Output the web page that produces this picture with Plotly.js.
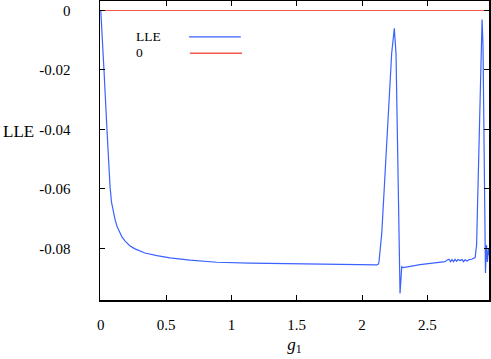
<!DOCTYPE html>
<html>
<head>
<meta charset="utf-8">
<script src="https://cdn.plot.ly/plotly-3.0.1.min.js"></script>
<style>
  body { margin: 0; background: #fff; }
  #graph { width: 491px; height: 359px; }
</style>
</head>
<body>
<div id="graph"></div>
<script>
// g1 values and largest Lyapunov exponent
var g1 = [0, 0.0054, 0.0115, 0.0245, 0.0475, 0.055, 0.0704, 0.082, 0.097, 0.109,
    0.124, 0.147, 0.162, 0.185, 0.224, 0.262, 0.300, 0.338, 0.430, 0.530,
    0.683, 0.887, 1.142, 1.395, 1.755, 2.113, 2.125,
    2.130, 2.151, 2.189, 2.227, 2.247, 2.260, 2.273, 2.286, 2.291, 2.304,
    2.316, 2.444, 2.597, 2.636, 2.649, 2.666, 2.678, 2.689, 2.701, 2.712,
    2.724, 2.735, 2.751, 2.766, 2.777, 2.789, 2.804, 2.820, 2.840, 2.853,
    2.866, 2.877, 2.888, 2.904, 2.914, 2.919, 2.926, 2.934, 2.941, 2.945,
    2.953, 2.960, 2.968, 2.974];
var lle = [0, -0.0039, -0.0077, -0.0200, -0.0402, -0.0470, -0.0590, -0.0645, -0.0680, -0.0703,
    -0.0726, -0.0750, -0.0762, -0.0775, -0.0792, -0.0802, -0.0810, -0.0816, -0.0825, -0.0832,
    -0.0840, -0.0847, -0.0850, -0.0852, -0.0854, -0.0856, -0.0853,
    -0.0845, -0.0750, -0.0425, -0.0144, -0.0060, -0.0144, -0.0480, -0.0817, -0.0952, -0.0862,
    -0.0865, -0.0855, -0.0847, -0.0845, -0.0840, -0.0837, -0.0845, -0.0838, -0.0845, -0.0837,
    -0.0844, -0.0838, -0.0841, -0.0838, -0.0845, -0.0839, -0.0843, -0.0838, -0.0837, -0.0834,
    -0.0831, -0.0789, -0.0570, -0.0268, -0.0082, -0.0030, -0.0116, -0.0436, -0.0772, -0.0883,
    -0.0789, -0.0846, -0.0799, -0.0823];
var zeroX = [-0.006, 2.972];
var zeroY = [0, 0];
var xTicks = [0, 0.5, 1, 1.5, 2, 2.5];
var xTickText = ['0', '0.5', '1', '1.5', '2', '2.5'];
var yTicks = [0, -0.02, -0.04, -0.06, -0.08];
var yTickText = ['0', '-0.02', '-0.04', '-0.06', '-0.08'];

var blue = '#3a62ff';
var red = '#f2584c';
var serif = 'Liberation Serif';

var lleTrace = {
    x: g1,
    y: lle,
    type: 'scatter',
    mode: 'lines',
    name: 'LLE',
    line: { color: blue, width: 1.2 }
};
var zeroTrace = {
    x: zeroX,
    y: zeroY,
    type: 'scatter',
    mode: 'lines',
    name: '0',
    line: { color: red, width: 1.2 }
};

var axisCommon = {
    showline: true,
    linecolor: '#000',
    linewidth: 1.5,
    mirror: 'ticks',
    ticks: 'inside',
    ticklen: 5,
    tickwidth: 1,
    tickcolor: '#000',
    showgrid: false,
    zeroline: false,
    tickfont: { family: serif, size: 15, color: '#000' }
};

var layout = {
    width: 491,
    height: 359,
    margin: { l: 100, r: 2, t: 1, b: 59 },
    paper_bgcolor: '#fff',
    plot_bgcolor: '#fff',
    showlegend: false,
    font: { family: serif, color: '#000' },
    xaxis: Object.assign({}, axisCommon, {
        range: [-0.006, 2.972],
        tickvals: xTicks,
        ticktext: xTickText,
        ticklabelstandoff: 10,
        title: { text: '<i>g</i><sub>1</sub>', font: { family: serif, size: 17, color: '#000' }, standoff: 6 }
    }),
    yaxis: Object.assign({}, axisCommon, {
        range: [-0.0974, 0.0032],
        tickvals: yTicks,
        ticktext: yTickText,
        ticklabelstandoff: 25
    }),
    annotations: [
        { text: 'LLE', xref: 'paper', yref: 'paper', x: -0.255, y: 0.565, xanchor: 'left', yanchor: 'middle',
          showarrow: false, font: { family: serif, size: 17, color: '#000' } },
        { text: 'LLE', xref: 'paper', yref: 'paper', x: 0.088, y: 0.882, xanchor: 'left', yanchor: 'middle',
          showarrow: false, font: { family: serif, size: 13.5, color: '#000' } },
        { text: '0', xref: 'paper', yref: 'paper', x: 0.088, y: 0.827, xanchor: 'left', yanchor: 'middle',
          showarrow: false, font: { family: serif, size: 13.5, color: '#000' } }
    ],
    shapes: [
        { type: 'line', xref: 'paper', yref: 'paper', x0: 0.229, x1: 0.362, y0: 0.880, y1: 0.880,
          line: { color: blue, width: 1.2 } },
        { type: 'line', xref: 'paper', yref: 'paper', x0: 0.231, x1: 0.365, y0: 0.825, y1: 0.825,
          line: { color: red, width: 1.5 } }
    ]
};

Plotly.newPlot('graph', [zeroTrace, lleTrace], layout, { staticPlot: true });
</script>
</body>
</html>
